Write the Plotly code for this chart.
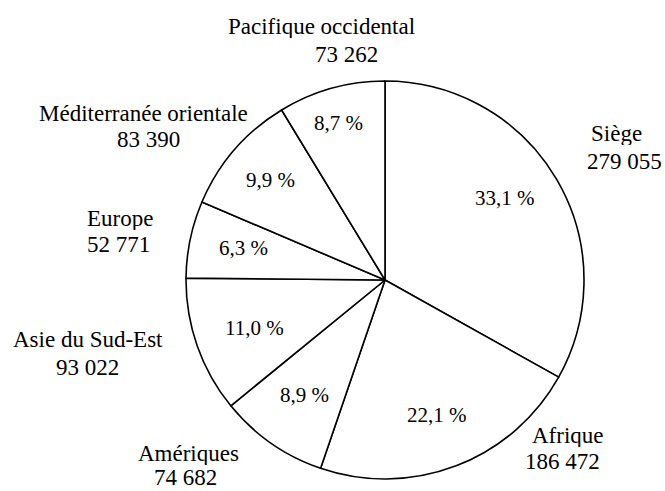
import plotly.graph_objects as go

# ---- data (clockwise from 12 o'clock) ----
regions = ["Siège", "Afrique", "Amériques", "Asie du Sud-Est", "Europe",
           "Méditerranée orientale", "Pacifique occidental"]
values = [279055, 186472, 74682, 93022, 52771, 83390, 73262]

total = sum(values)
pct_text = [f"{v / total * 100:.1f}".replace(".", ",") + " %" for v in values]
val_text = [f"{v:,}".replace(",", " ") for v in values]

# ---- layout helpers (pixel positions of text, not data) ----
W, H = 665, 491
name_pos = [(616, 133), (568, 435), (188, 453), (88, 339), (120, 218), (143, 113), (321, 26)]
val_pos = [(624, 161), (562, 461), (186, 477), (88, 367), (118, 244), (148, 139), (346, 54)]
pct_pos = [(505, 198), (437, 415), (304, 395), (254, 328), (243, 248), (270, 180), (338, 123)]

FONT = "Liberation Serif, Times New Roman, serif"

fig = go.Figure(go.Pie(
    labels=regions,
    values=values,
    sort=False,
    direction="clockwise",
    rotation=0,
    textinfo="none",
    hoverinfo="label+value+percent",
    marker=dict(colors=["white"] * len(values), line=dict(color="black", width=1.6)),
    domain=dict(x=[186 / W, 584 / W], y=[1 - 479 / H, 1 - 81 / H]),
    showlegend=False,
))

ann = []
def px(x, y):
    return x / W, 1 - y / H

for i in range(len(values)):
    x, y = px(*name_pos[i])
    ann.append(dict(x=x, y=y, text=regions[i], showarrow=False, xref="paper", yref="paper",
                    xanchor="center", yanchor="middle", height=24,
                    font=dict(size=23, color="black", family=FONT)))
    x, y = px(*val_pos[i])
    ann.append(dict(x=x, y=y, text=val_text[i], showarrow=False, xref="paper", yref="paper",
                    xanchor="center", yanchor="middle", height=24,
                    font=dict(size=23, color="black", family=FONT)))
    x, y = px(*pct_pos[i])
    ann.append(dict(x=x, y=y, text=pct_text[i], showarrow=False, xref="paper", yref="paper",
                    xanchor="center", yanchor="middle", font=dict(size=21, color="black", family=FONT)))

fig.update_layout(
    width=W, height=H,
    margin=dict(l=0, r=0, t=0, b=0),
    paper_bgcolor="white",
    plot_bgcolor="white",
    annotations=ann,
    font=dict(family=FONT, color="black"),
)

fig.write_html(
    "out.html",
    config={"displayModeBar": False},
    post_script="document.body.style.margin='0';document.body.style.padding='0';document.body.style.overflow='hidden';",
)
